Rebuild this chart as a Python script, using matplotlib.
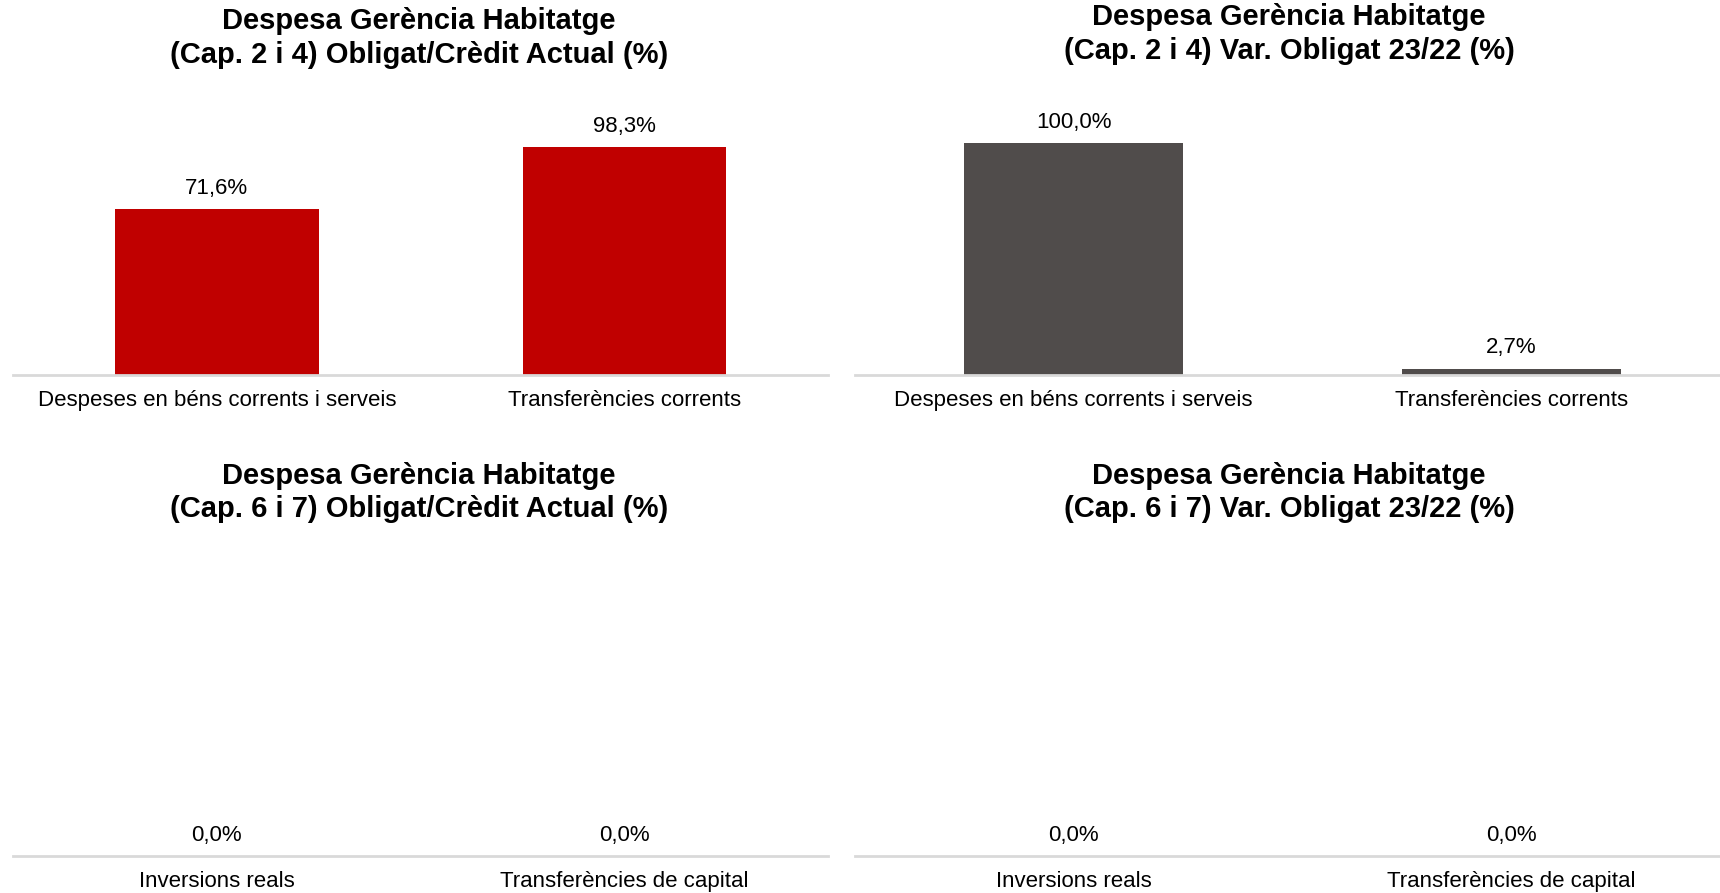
import numpy as np
import matplotlib.pyplot as plt

plt.rcParams['font.family'] = ['Liberation Sans', 'DejaVu Sans']

# dades
cats_24 = ['Despeses en béns corrents i serveis', 'Transferències corrents']
cats_67 = ['Inversions reals', 'Transferències de capital']
oblig_credit_24 = [71.6, 98.3]
var_oblig_24 = [100.0, 2.7]
oblig_credit_67 = [0.0, 0.0]
var_oblig_67 = [0.0, 0.0]

titles = [
    'Despesa Gerència Habitatge\n(Cap. 2 i 4) Obligat/Crèdit Actual (%)',
    'Despesa Gerència Habitatge\n(Cap. 2 i 4) Var. Obligat 23/22 (%)',
    'Despesa Gerència Habitatge\n(Cap. 6 i 7) Obligat/Crèdit Actual (%)',
    'Despesa Gerència Habitatge\n(Cap. 6 i 7) Var. Obligat 23/22 (%)',
]

RED = '#c00000'
GREY = '#504c4b'

fig = plt.figure(figsize=(17.2, 8.93), dpi=100)

# [left, bottom, width, height], title x, title y (fig fraction)
panels = [
    ([0.0076, 0.580, 0.474, 0.319], 0.2436, 0.9575, cats_24, oblig_credit_24, RED, 123),
    ([0.497, 0.580, 0.509, 0.319], 0.7494, 0.9615, cats_24, var_oblig_24, GREY, 123),
    ([0.0076, 0.0414, 0.474, 0.331], 0.2436, 0.4485, cats_67, oblig_credit_67, RED, 100),
    ([0.497, 0.0414, 0.509, 0.331], 0.7494, 0.4485, cats_67, var_oblig_67, GREY, 100),
]

for (rect, tx, ty, cats, vals, col, ytop), title in zip(panels, titles):
    ax = fig.add_axes(rect)
    x = np.arange(len(cats))
    ax.bar(x, vals, width=0.5, color=col)
    for xi, v in zip(x, vals):
        ax.annotate(f'{v:.1f}%'.replace('.', ','), (xi, v), xytext=(0, 15),
                    textcoords='offset points', ha='center', va='center',
                    fontsize=16)
    ax.set_xlim(-0.5, len(cats) - 0.5)
    ax.set_ylim(0, ytop)
    ax.set_xticks(x)
    ax.set_xticklabels(cats, fontsize=16)
    ax.tick_params(axis='x', length=0, pad=11)
    ax.set_yticks([])
    for s in ['top', 'left', 'right']:
        ax.spines[s].set_visible(False)
    ax.spines['bottom'].set_color('#d9d9d9')
    ax.spines['bottom'].set_linewidth(2)
    fig.text(tx, ty, title, ha='center', va='center', fontsize=21,
             fontweight='bold', linespacing=1.27)

fig.savefig('out.png', dpi=100)
